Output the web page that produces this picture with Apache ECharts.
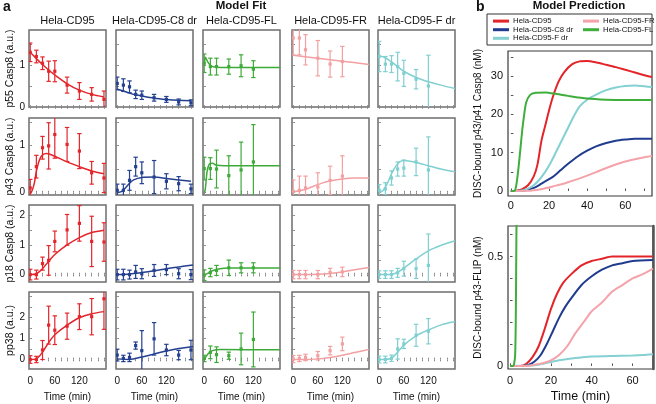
<!DOCTYPE html>
<html><head><meta charset="utf-8">
<script src="https://cdn.jsdelivr.net/npm/echarts@6/dist/echarts.min.js"></script>
<style>html,body{margin:0;padding:0;background:#fff}#c{width:656px;height:404px}</style>
</head><body><div id="c"></div>
<script>
// ---------- DATA ----------
const T9 = [0,15,30,45,60,90,120,150,180];
const T6 = [0,15,30,60,90,120];
const T7 = [0,15,30,45,60,90,120];
const cellLines = ['Hela-CD95','Hela-CD95-C8 dr','Hela-CD95-FL','Hela-CD95-FR','Hela-CD95-F dr'];
const rowNames = ['p55 Casp8 (a.u.)','p43 Casp8 (a.u.)','p18 Casp8 (a.u.)','pp38 (a.u.)'];
const xTickVals = [0,15,30,45,60,75,90,105,120,135,150,165,180];
const xLabelVals = [0,60,120];
const yLabelVals = [[0,1],[0,1],[0,1,2],[0,1,2]];
const yTickVals = [[0,0.5,1,1.5],[0,0.5,1,1.5],[0,0.5,1,1.5,2],[0,0.5,1,1.5,2,2.5,3]];

// p55
const p55_wt_m = [1.30,1.20,1.04,0.85,0.85,0.52,0.38,0.30,0.18];
const p55_wt_e = [0.22,0.15,0.15,0.24,0.25,0.19,0.20,0.16,0.20];
const p55_wt_fit = [[0,1.30],[15,1.15],[30,1.01],[45,0.88],[60,0.76],[90,0.55],[120,0.40],[150,0.30],[180,0.24]];
const p55_c8_m = [0.56,0.52,0.48,0.30,0.28,0.22,0.18,0.12,0.10];
const p55_c8_e = [0.15,0.15,0.14,0.10,0.10,0.08,0.07,0.07,0.07];
const p55_c8_fit = [[0,0.42],[15,0.38],[30,0.33],[45,0.29],[60,0.26],[90,0.21],[120,0.18],[150,0.16],[180,0.15]];
const p55_fl_m = [1.04,0.96,0.96,0.96,0.98,0.90];
const p55_fl_e = [0.22,0.20,0.20,0.18,0.26,0.20];
const p55_fl_fit = [[0,1.00],[3,1.18],[8,1.08],[15,0.99],[25,0.95],[40,0.94],[185,0.94]];
const p55_fr_m = [1.64,1.64,1.36,1.16,1.02,1.08];
const p55_fr_e = [0.40,0.40,0.36,0.42,0.31,0.36];
const p55_fr_fit = [[0,1.23],[60,1.16],[120,1.09],[185,1.01]];
const p55_fdr_m = [1.20,1.02,1.02,0.96,0.80,0.66,0.50];
const p55_fdr_e = [0.36,0.18,0.20,0.34,0.31,0.23,0.73];
const p55_fdr_fit = [[0,1.22],[15,1.17],[30,1.07],[45,0.96],[60,0.85],[90,0.70],[120,0.60],[150,0.52],[185,0.44]];
// p43
const p43_wt_m = [0.10,0.55,0.95,0.99,1.23,1.02,0.88,0.42,0.31];
const p43_wt_e = [0.18,0.24,0.24,0.49,0.50,0.36,0.37,0.24,0.31];
const p43_wt_fit = [[0,-0.03],[5,0.05],[10,0.20],[15,0.45],[22,0.68],[30,0.80],[40,0.83],[60,0.77],[90,0.65],[120,0.55],[150,0.46],[180,0.40]];
const p43_c8_m = [0.05,0.05,0.26,0.55,0.42,0.33,0.24,0.19,0.08];
const p43_c8_e = [0.13,0.13,0.21,0.20,0.23,0.35,0.16,0.15,0.10];
const p43_c8_fit = [[0,0.00],[10,0.02],[20,0.10],[30,0.20],[40,0.27],[60,0.32],[90,0.33],[120,0.30],[150,0.27],[180,0.24]];
const p43_fl_m = [0.51,0.51,0.50,0.36,0.48,0.65];
const p43_fl_e = [0.24,0.23,0.40,0.42,0.59,0.79];
const p43_fl_fit = [[1,0.00],[3,0.10],[7,0.45],[12,0.60],[20,0.62],[30,0.58],[50,0.57],[185,0.57]];
const p43_fr_m = [0.03,0.05,0.10,0.12,0.26,0.35];
const p43_fr_e = [0.24,0.30,0.25,0.30,0.30,0.43];
const p43_fr_fit = [[0,0.02],[15,0.04],[30,0.07],[45,0.12],[60,0.17],[90,0.25],[120,0.29],[150,0.31],[185,0.31]];
const p43_fdr_m = [0.05,0.08,0.31,0.50,0.52,0.65,0.48];
const p43_fdr_e = [0.12,0.13,0.15,0.15,0.17,0.29,0.70];
const p43_fdr_fit = [[0,0.00],[10,0.05],[20,0.20],[30,0.40],[40,0.55],[50,0.65],[60,0.68],[90,0.64],[120,0.57],[150,0.50],[185,0.44]];
// p18
const p18_wt_m = [0.00,0.00,0.37,0.48,1.12,1.51,1.73,1.12,1.10];
const p18_wt_e = [0.18,0.15,0.22,0.50,0.35,0.52,0.60,0.85,0.65];
const p18_wt_fit = [[0,0.00],[15,0.03],[30,0.20],[45,0.45],[60,0.68],[90,1.00],[120,1.25],[150,1.42],[180,1.50]];
const p18_c8_m = [0.00,0.00,0.00,0.09,0.03,0.14,0.17,0.03,0.00];
const p18_c8_e = [0.18,0.18,0.15,0.22,0.17,0.20,0.17,0.17,0.17];
const p18_c8_fit = [[0,0.00],[30,0.02],[60,0.07],[90,0.13],[120,0.20],[150,0.26],[185,0.32]];
const p18_fl_m = [-0.02,0.07,0.14,0.23,0.23,0.23];
const p18_fl_e = [0.18,0.14,0.17,0.26,0.17,0.17];
const p18_fl_fit = [[0,-0.02],[10,0.05],[20,0.13],[35,0.19],[60,0.22],[185,0.22]];
const p18_fr_m = [0.00,0.00,0.00,0.00,0.07,0.09];
const p18_fr_e = [0.14,0.14,0.14,0.14,0.14,0.16];
const p18_fr_fit = [[0,0.00],[30,0.00],[60,0.01],[90,0.04],[120,0.09],[150,0.16],[185,0.24]];
const p18_fdr_m = [0.00,0.00,0.00,0.06,0.20,0.20,0.31];
const p18_fdr_e = [0.13,0.13,0.13,0.15,0.25,0.33,1.06];
const p18_fdr_fit = [[0,0.00],[30,0.01],[45,0.08],[60,0.22],[90,0.53],[120,0.80],[150,0.98],[185,1.14]];
// pp38
const pp38_wt_m = [0.00,0.00,0.45,1.63,1.39,1.58,2.03,2.03,2.88];
const pp38_wt_e = [0.18,0.15,0.45,0.90,0.68,0.62,0.61,0.86,1.45];
const pp38_wt_fit = [[0,0.00],[15,0.03],[30,0.35],[45,0.80],[60,1.17],[90,1.63],[120,1.98],[150,2.17],[180,2.27]];
const pp38_c8_m = [0.21,0.05,0.10,0.66,0.42,0.98,0.45,0.21,0.45];
const pp38_c8_e = [0.28,0.15,0.20,0.17,0.95,0.77,0.27,0.22,0.46];
const pp38_c8_fit = [[0,0.03],[30,0.00],[60,0.12],[90,0.26],[120,0.40],[150,0.52],[185,0.62]];
const pp38_fl_m = [0.05,0.34,0.23,0.18,0.50,0.95];
const pp38_fl_e = [0.15,0.30,0.37,0.17,0.75,1.30];
const pp38_fl_fit = [[0,0.00],[10,0.28],[20,0.42],[40,0.47],[185,0.46]];
const pp38_fr_m = [0.02,0.05,0.10,0.18,0.42,0.74];
const pp38_fr_e = [0.17,0.15,0.15,0.20,0.20,0.32];
const pp38_fr_fit = [[0,0.00],[30,0.00],[60,0.03],[90,0.10],[120,0.20],[150,0.33],[185,0.48]];
const pp38_fdr_m = [0.00,0.00,0.06,0.50,0.74,1.15,1.34];
const pp38_fdr_e = [0.16,0.16,0.15,0.48,0.22,0.52,0.60];
const pp38_fdr_fit = [[0,0.00],[15,0.01],[30,0.06],[45,0.35],[60,0.68],[90,1.12],[120,1.40],[150,1.63],[185,1.80]];

// Model prediction (panel b)
const b1_wt = [[0,0],[3,0.1],[6,0.5],[9,1.5],[12,3.8],[14,7],[16,13],[18,17],[20,21],[22,24.5],[25,28.5],[28,31],[32,33],[36,33.8],[40,33.9],[45,33.5],[50,32.9],[55,32.3],[60,31.6],[65,30.9],[70,30.2],[74,29.7]];
const b1_c8 = [[0,0],[5,0.05],[8,0.2],[12,0.8],[15,1.6],[18,2.5],[22,3.7],[26,5.4],[30,7.1],[35,9],[40,10.5],[45,11.7],[50,12.5],[55,13.1],[60,13.4],[65,13.6],[74,13.6]];
const b1_fdr = [[0,0],[5,0.1],[8,0.4],[12,1.5],[15,3],[18,5],[21,7.5],[24,10.5],[27,13.5],[30,16.5],[33,19.5],[36,22],[40,23.8],[45,25.2],[50,26.3],[55,27],[60,27.4],[65,27.5],[70,27.3],[74,27.1]];
const b1_fr = [[0,0],[8,0.05],[12,0.2],[15,0.4],[18,0.7],[22,1.2],[26,1.7],[30,2.3],[35,3.1],[40,4.0],[45,5.0],[50,6.0],[55,6.9],[60,7.7],[65,8.3],[70,8.8],[74,9.1]];
const b1_fl = [[0,0],[2,0.1],[3,2],[4,6],[5,11],[6,16],[7,20],[8,23],[10,25],[13,25.6],[18,25.7],[24,25.3],[30,24.8],[40,24.1],[50,23.8],[60,23.7],[74,23.7]];
const b2_wt = [[0,0],[5,0],[8,0.01],[11,0.04],[14,0.09],[17,0.17],[20,0.26],[23,0.33],[26,0.38],[30,0.42],[35,0.46],[40,0.48],[45,0.49],[50,0.5],[60,0.5],[70,0.5]];
const b2_c8 = [[0,0],[6,0],[9,0.005],[12,0.02],[15,0.05],[18,0.1],[21,0.16],[24,0.22],[27,0.27],[30,0.31],[35,0.37],[40,0.41],[45,0.44],[50,0.46],[55,0.47],[60,0.48],[70,0.485]];
const b2_fdr = [[0,0],[10,0.002],[15,0.008],[20,0.018],[25,0.027],[30,0.034],[35,0.039],[40,0.043],[50,0.046],[60,0.048],[65,0.05],[70,0.054]];
const b2_fr = [[0,0],[8,0],[12,0.005],[16,0.012],[20,0.025],[24,0.05],[28,0.09],[32,0.15],[36,0.2],[40,0.25],[45,0.29],[50,0.34],[55,0.37],[60,0.4],[65,0.42],[70,0.445]];
const b2_fl = [[0,0],[1.5,0],[2,0.01],[2.5,0.05],[2.8,0.2],[3.0,0.45],[3.2,0.7],[3.3,0.8]];

// ---------- BUILD ----------
const colA = ['#e3262b','#24408f','#3eaa3a','#f2a0a2','#80cfd1'];
const colLeft = [29,116,203,292,378], rowTop = [30,118,205,292], PW = 77, PH = 77;
const yRange = [[0,1.83],[-0.05,1.58],[-0.25,2.35],[-0.45,3.2]];
const FONT = 'Liberation Sans, Arial, sans-serif';

const panelData = [
  [[T9,p55_wt_m,p55_wt_e,p55_wt_fit],[T9,p55_c8_m,p55_c8_e,p55_c8_fit],[T6,p55_fl_m,p55_fl_e,p55_fl_fit],[T6,p55_fr_m,p55_fr_e,p55_fr_fit],[T7,p55_fdr_m,p55_fdr_e,p55_fdr_fit]],
  [[T9,p43_wt_m,p43_wt_e,p43_wt_fit],[T9,p43_c8_m,p43_c8_e,p43_c8_fit],[T6,p43_fl_m,p43_fl_e,p43_fl_fit],[T6,p43_fr_m,p43_fr_e,p43_fr_fit],[T7,p43_fdr_m,p43_fdr_e,p43_fdr_fit]],
  [[T9,p18_wt_m,p18_wt_e,p18_wt_fit],[T9,p18_c8_m,p18_c8_e,p18_c8_fit],[T6,p18_fl_m,p18_fl_e,p18_fl_fit],[T6,p18_fr_m,p18_fr_e,p18_fr_fit],[T7,p18_fdr_m,p18_fdr_e,p18_fdr_fit]],
  [[T9,pp38_wt_m,pp38_wt_e,pp38_wt_fit],[T9,pp38_c8_m,pp38_c8_e,pp38_c8_fit],[T6,pp38_fl_m,pp38_fl_e,pp38_fl_fit],[T6,pp38_fr_m,pp38_fr_e,pp38_fr_fit],[T7,pp38_fdr_m,pp38_fdr_e,pp38_fdr_fit]]
];

function errRender(color){
  return function(params, api){
    const t = api.value(0), m = api.value(1), e = api.value(2);
    const c = api.coord([t,m]), hi = api.coord([t,m+e]), lo = api.coord([t,m-e]);
    const w = 2.2;
    const st = () => ({stroke: color, lineWidth: 1.2});
    return {type:'group', children:[
      {type:'line', shape:{x1:c[0],y1:hi[1],x2:c[0],y2:lo[1]}, style:st()},
      {type:'line', shape:{x1:c[0]-w,y1:hi[1],x2:c[0]+w,y2:hi[1]}, style:st()},
      {type:'line', shape:{x1:c[0]-w,y1:lo[1],x2:c[0]+w,y2:lo[1]}, style:st()},
      {type:'rect', shape:{x:c[0]-1.6,y:c[1]-1.6,width:3.2,height:3.2}, style:{fill:color}}
    ]};
  };
}

const grid = [], xAxis = [], yAxis = [], series = [];
const tickStyle = {inside:true, length:1.8, lineStyle:{color:'#888', width:1}};
for (let r = 0; r < 4; r++) {
  for (let c = 0; c < 5; c++) {
    const gi = grid.length;
    grid.push({left:colLeft[c], top:rowTop[r], width:PW, height:PH, show:true, borderColor:'#6e6e6e', borderWidth:1.5, backgroundColor:'#fff'});
    xAxis.push({type:'value', gridIndex:gi, min:-3, max:185, position:'bottom',
      axisLine:{show:false}, splitLine:{show:false},
      axisTick:Object.assign({customValues:xTickVals}, tickStyle),
      axisLabel:{show:r===3, customValues:xLabelVals, fontSize:10, margin:7, color:'#111', fontFamily:FONT},
      name:r===3?'Time (min)':'', nameLocation:'middle', nameGap:23,
      nameTextStyle:{fontSize:10, color:'#111', fontFamily:FONT}});
    xAxis.push({type:'value', gridIndex:gi, min:-3, max:185, position:'top',
      axisLine:{show:false}, splitLine:{show:false},
      axisTick:Object.assign({customValues:xTickVals}, tickStyle), axisLabel:{show:false}});
    yAxis.push({type:'value', gridIndex:gi, min:yRange[r][0], max:yRange[r][1], position:'left',
      axisLine:{show:false}, splitLine:{show:false},
      axisTick:Object.assign({customValues:yTickVals[r]}, tickStyle),
      axisLabel:{show:c===0, customValues:yLabelVals[r], fontSize:10, margin:4, color:'#111', fontFamily:FONT},
      name:c===0?rowNames[r]:'', nameLocation:'middle', nameGap:11, nameRotate:90,
      nameTextStyle:{fontSize:10.5, color:'#111', fontFamily:FONT}});
    yAxis.push({type:'value', gridIndex:gi, min:yRange[r][0], max:yRange[r][1], position:'right',
      axisLine:{show:false}, splitLine:{show:false},
      axisTick:Object.assign({customValues:yTickVals[r]}, tickStyle), axisLabel:{show:false}});
    const [T, M, E, FIT] = panelData[r][c];
    const rows = T.map((t,i) => [t, M[i], E[i]]);
    series.push({type:'line', name:'fit-'+r+'-'+c, xAxisIndex:2*gi, yAxisIndex:2*gi, data:FIT,
      showSymbol:false, smooth:0.3, silent:true, z:3, clip:true,
      lineStyle:{width:1.5, color:colA[c]}, itemStyle:{color:colA[c]}});
    series.push({type:'custom', name:'data-'+r+'-'+c, xAxisIndex:2*gi, yAxisIndex:2*gi, data:rows,
      encode:{x:0, y:1}, renderItem:errRender(colA[c]), clip:true, z:4, silent:true});
  }
}

// panel b
const colB = {'Hela-CD95':'#e3252a','Hela-CD95-C8 dr':'#203c8f','Hela-CD95-F dr':'#84d0d2','Hela-CD95-FR':'#f4a3ab','Hela-CD95-FL':'#3fae3a'};
const bTop = [['Hela-CD95',b1_wt],['Hela-CD95-C8 dr',b1_c8],['Hela-CD95-F dr',b1_fdr],['Hela-CD95-FR',b1_fr],['Hela-CD95-FL',b1_fl]];
const bBot = [['Hela-CD95',b2_wt],['Hela-CD95-C8 dr',b2_c8],['Hela-CD95-F dr',b2_fdr],['Hela-CD95-FR',b2_fr],['Hela-CD95-FL',b2_fl]];
const tickB = {inside:true, length:2.5, lineStyle:{color:'#555', width:1}};

// top plot
let g1 = grid.length;
grid.push({left:508, top:51, width:144, height:145, show:true, borderColor:'#3a3a3a', borderWidth:1.2, backgroundColor:'#fff'});
let x1 = xAxis.length;
xAxis.push({type:'value', gridIndex:g1, min:-1.5, max:74, axisLine:{show:false}, splitLine:{show:false},
  axisTick:Object.assign({customValues:[0,10,20,30,40,50,60,70]}, tickB),
  axisLabel:{customValues:[0,20,40,60], fontSize:11, margin:4, color:'#111', fontFamily:FONT}});
let y1 = yAxis.length;
yAxis.push({type:'value', gridIndex:g1, min:-1.3, max:36.5, axisLine:{show:false}, splitLine:{show:false},
  axisTick:Object.assign({customValues:[0,5,10,15,20,25,30,35]}, tickB),
  axisLabel:{customValues:[0,10,20,30], fontSize:11, margin:5, color:'#111', fontFamily:FONT},
  name:'DISC-bound p43/p41 Casp8 (nM)', nameLocation:'middle', nameGap:25, nameRotate:90,
  nameTextStyle:{fontSize:10, color:'#111', fontFamily:FONT}});
bTop.forEach(([n,d]) => series.push({type:'line', name:n, xAxisIndex:x1, yAxisIndex:y1, data:d, showSymbol:false, smooth:0.25, clip:true,
  lineStyle:{width:2, color:colB[n]}, itemStyle:{color:colB[n]}}));

// bottom plot
let g2 = grid.length;
grid.push({left:508, top:226, width:145, height:143, show:true, borderColor:'#3a3a3a', borderWidth:1.2, backgroundColor:'#fff'});
let x2 = xAxis.length;
xAxis.push({type:'value', gridIndex:g2, min:-1, max:70, axisLine:{show:false}, splitLine:{show:false},
  axisTick:Object.assign({customValues:[0,10,20,30,40,50,60,70]}, tickB),
  axisLabel:{customValues:[0,20,40,60], fontSize:11, margin:6, color:'#111', fontFamily:FONT},
  name:'Time (min)', nameLocation:'middle', nameGap:21, nameTextStyle:{fontSize:12.5, color:'#111', fontFamily:FONT}});
let y2 = yAxis.length;
yAxis.push({type:'value', gridIndex:g2, min:-0.014, max:0.64, axisLine:{show:false}, splitLine:{show:false},
  axisTick:Object.assign({customValues:[0,0.1,0.2,0.3,0.4,0.5,0.6]}, tickB),
  axisLabel:{customValues:[0,0.5], fontSize:11, margin:5, color:'#111', fontFamily:FONT},
  name:'DISC-bound p43-FLIP (nM)', nameLocation:'middle', nameGap:25, nameRotate:90,
  nameTextStyle:{fontSize:10, color:'#111', fontFamily:FONT}});
yAxis.push({type:'value', gridIndex:g2, min:-0.014, max:0.64, position:'right', splitLine:{show:false},
  axisLine:{show:true, lineStyle:{color:'#555', width:2.5}}, axisTick:{show:false}, axisLabel:{show:false}});
bBot.forEach(([n,d]) => series.push({type:'line', name:n, xAxisIndex:x2, yAxisIndex:y2, data:d, showSymbol:false, smooth:0.25, clip:true,
  lineStyle:{width:2, color:colB[n]}, itemStyle:{color:colB[n]}}));

// texts
const graphic = [
  {type:'text', x:3, y:7, style:{text:'a', font:'bold 14px '+FONT, fill:'#111', textVerticalAlign:'middle'}},
  {type:'text', x:241, y:6, style:{text:'Model Fit', font:'bold 11.5px '+FONT, fill:'#111', textAlign:'center', textVerticalAlign:'middle'}},
  {type:'text', x:476, y:7, style:{text:'b', font:'bold 14px '+FONT, fill:'#111', textVerticalAlign:'middle'}},
  {type:'text', x:579, y:6, style:{text:'Model Prediction', font:'bold 11.5px '+FONT, fill:'#111', textAlign:'center', textVerticalAlign:'middle'}},
  {type:'rect', shape:{x:487, y:14, width:165, height:31}, style:{fill:'none', stroke:'#333', lineWidth:1}}
];
cellLines.forEach((t,i) => graphic.push({type:'text', x:colLeft[i]+PW/2, y:21, style:{text:t, font:'11px '+FONT, fill:'#111', textAlign:'center', textVerticalAlign:'middle'}}));

const legendCommon = {orient:'vertical', itemWidth:16, itemHeight:3, itemGap:0, icon:'rect',
  textStyle:{fontSize:7.8, lineHeight:8.6, color:'#111', fontFamily:FONT, padding:[0,0,0,-1]}, padding:0, selectedMode:false};
const legend = [
  Object.assign({left:493, top:16.8, data:['Hela-CD95','Hela-CD95-C8 dr','Hela-CD95-F dr']}, legendCommon),
  Object.assign({left:583, top:16.8, data:['Hela-CD95-FR','Hela-CD95-FL']}, legendCommon)
];

const chart = echarts.init(document.getElementById('c'), null, {renderer:'canvas'});
chart.setOption({animation:false, backgroundColor:'#fff', textStyle:{fontFamily:FONT}, grid, xAxis, yAxis, series, graphic, legend});
</script></body></html>
